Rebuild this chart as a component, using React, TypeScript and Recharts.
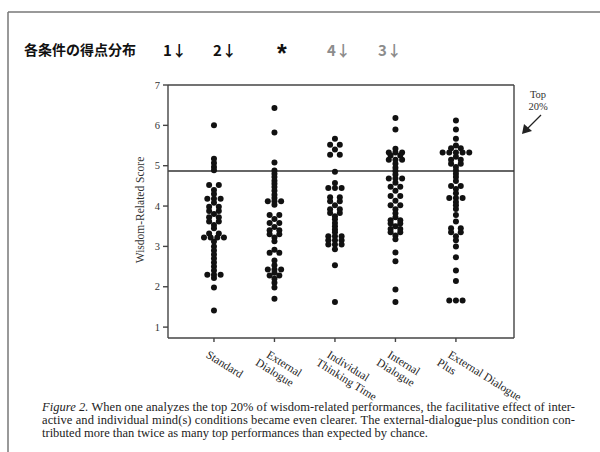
import React from "react";
import {
    ScatterChart,
    Scatter,
    XAxis,
    YAxis,
    ReferenceLine,
} from "recharts";

// category labels (one entry per line of the rotated tick label)
const conditionLabels = [
    ["Standard"],
    ["External", "Dialogue"],
    ["Individual", "Thinking Time"],
    ["Internal", "Dialogue"],
    ["External Dialogue", "Plus"],
];

// [score, number of dots at that score]
const standardScores = [
    [6.0, 1], [5.17, 1], [5.07, 1], [4.97, 1], [4.89, 1], [4.52, 2], [4.4, 1],
    [4.3, 1], [4.18, 3], [4.08, 1], [3.98, 2], [3.88, 2], [3.8, 1], [3.72, 2],
    [3.62, 2], [3.53, 1], [3.45, 1], [3.32, 2], [3.22, 4], [3.12, 1], [3.0, 1],
    [2.9, 1], [2.8, 1], [2.7, 1], [2.6, 1], [2.5, 1], [2.4, 1], [2.3, 3],
    [2.22, 1], [1.98, 1], [1.41, 1],
];
const externalScores = [
    [6.43, 1], [5.82, 1], [5.08, 1], [4.88, 1], [4.8, 1], [4.72, 1], [4.63, 1],
    [4.55, 1], [4.47, 1], [4.38, 1], [4.28, 1], [4.2, 1], [4.12, 3], [4.03, 1],
    [3.78, 2], [3.68, 1], [3.58, 2], [3.48, 1], [3.4, 2], [3.3, 2], [3.22, 1],
    [3.13, 1], [2.92, 1], [2.84, 2], [2.65, 1], [2.53, 1], [2.43, 3], [2.35, 1],
    [2.28, 2], [2.2, 1], [2.1, 1], [1.98, 1], [1.7, 1],
];
const individualScores = [
    [5.67, 1], [5.52, 2], [5.4, 1], [5.27, 2], [4.85, 1], [4.57, 1], [4.45, 3],
    [4.22, 2], [4.12, 2], [4.02, 1], [3.92, 2], [3.83, 2], [3.75, 1], [3.67, 1],
    [3.58, 1], [3.5, 1], [3.42, 1], [3.35, 1], [3.25, 3], [3.15, 3], [3.05, 3],
    [2.93, 1], [2.53, 1], [1.62, 1],
];
const internalScores = [
    [6.18, 1], [5.9, 1], [5.42, 1], [5.33, 3], [5.25, 2], [5.15, 3], [5.05, 1],
    [4.95, 1], [4.87, 1], [4.78, 1], [4.68, 3], [4.58, 1], [4.48, 2], [4.38, 1],
    [4.25, 2], [4.13, 1], [4.02, 2], [3.92, 1], [3.82, 1], [3.72, 1], [3.65, 2],
    [3.57, 2], [3.5, 1], [3.43, 2], [3.35, 2], [3.27, 1], [3.18, 1], [2.85, 1],
    [2.63, 1], [1.93, 1], [1.62, 1],
];
const externalPlusScores = [
    [6.12, 1], [5.9, 1], [5.67, 1], [5.5, 1], [5.43, 2], [5.33, 5], [5.22, 1],
    [5.15, 2], [5.05, 2], [4.97, 1], [4.88, 1], [4.8, 1], [4.72, 1], [4.62, 1],
    [4.5, 2], [4.42, 1], [4.32, 1], [4.2, 3], [4.1, 1], [4.02, 1], [3.93, 1],
    [3.78, 1], [3.62, 1], [3.45, 2], [3.35, 2], [3.25, 1], [3.15, 1], [3.0, 1],
    [2.73, 1], [2.4, 1], [2.14, 1], [1.66, 3],
];

const allColumns = [
    standardScores,
    externalScores,
    individualScores,
    internalScores,
    externalPlusScores,
];

const yTicks = [1, 2, 3, 4, 5, 6, 7];
const top20Cut = 4.87;

const captionLines = [
    "When one analyzes the top 20% of wisdom-related performances, the facilitative effect of inter-",
    "active and individual mind(s) conditions became even clearer. The external-dialogue-plus condition con-",
    "tributed more than twice as many top performances than expected by chance.",
];

// spread tied scores side by side around the column centre
const toPoints = (col: number, levels: number[][]) =>
    levels.flatMap(([score, n]) =>
        Array.from({ length: n }, (_, i) => ({
            x: col + (i - (n - 1) / 2) * (n === 2 ? 0.16 : 0.11),
            y: score,
        }))
    );

const points = allColumns.flatMap((levels, i) => toPoints(i + 1, levels));

const serif = "'Liberation Serif', 'DejaVu Serif', serif";

const ConditionTick = (props: any) => {
    const { x, y, payload } = props;
    const lines = conditionLabels[payload.value - 1] || [];
    return (
        <g transform={`translate(${x - 4},${y + 5}) rotate(32)`}>
            {lines.map((line, i) => (
                <text
                    key={line}
                    x={i * -5}
                    y={9 + i * 12.5}
                    fontFamily={serif}
                    fontSize={11.5}
                    fill="#222"
                >
                    {line}
                </text>
            ))}
        </g>
    );
};

const Dot = (props: any) => (
    <circle cx={props.cx} cy={props.cy} r={3} fill="#111" />
);

export default function App() {
    return (
        <div
            style={{
                position: "absolute",
                left: 0,
                top: 0,
                width: 600,
                height: 452,
                background: "#fff",
            }}
        >
            <ScatterChart
                width={600}
                height={452}
                margin={{ top: 85, right: 86, bottom: 84, left: 138 }}
            >
                <XAxis
                    type="number"
                    dataKey="x"
                    domain={[0.24, 5.96]}
                    ticks={[1, 2, 3, 4, 5]}
                    allowDataOverflow
                    height={30}
                    tickSize={4}
                    tickMargin={2}
                    stroke="#444"
                    strokeWidth={1.4}
                    tick={<ConditionTick />}
                />
                <YAxis
                    type="number"
                    dataKey="y"
                    domain={[0.73, 7]}
                    ticks={yTicks}
                    allowDataOverflow
                    width={30}
                    tickSize={5}
                    tickMargin={3}
                    stroke="#444"
                    strokeWidth={1.4}
                    tick={{ fontFamily: serif, fontSize: 10.5, fill: "#333" }}
                />
                <ReferenceLine y={7} stroke="#444" strokeWidth={1.4} />
                <ReferenceLine x={5.96} stroke="#444" strokeWidth={1.4} />
                <ReferenceLine y={top20Cut} stroke="#333" strokeWidth={1.5} />
                <Scatter data={points} shape={<Dot />} isAnimationActive={false} />
            </ScatterChart>

            <svg
                width={600}
                height={452}
                style={{ position: "absolute", left: 0, top: 0, pointerEvents: "none" }}
            >
                <line x1={8} y1={12} x2={600} y2={12} stroke="#777" strokeWidth={1.5} />
                <line x1={8} y1={12} x2={8} y2={452} stroke="#777" strokeWidth={1.5} />

                <g fontFamily="'Noto Sans CJK JP', sans-serif" fontWeight="bold" fontSize={14}>
                    <text x={24} y={55} fill="#111">各条件の得点分布</text>
                    <text x={163} y={56} fontSize={15} fill="#111">1↓</text>
                    <text x={213} y={56} fontSize={15} fill="#111">2↓</text>
                    <text x={277} y={62} fontSize={25} fontFamily="'Liberation Sans', sans-serif" fill="#111">*</text>
                    <text x={327} y={56} fontSize={15} fill="#8c8c8c">4↓</text>
                    <text x={378} y={56} fontSize={15} fill="#8c8c8c">3↓</text>
                </g>

                <text
                    transform="translate(140,210) rotate(-90)"
                    textAnchor="middle"
                    dominantBaseline="central"
                    fontFamily={serif}
                    fontSize={11.5}
                    fill="#333"
                >
                    Wisdom-Related Score
                </text>

                <g fontFamily={serif} fontSize={10.5} fill="#333" textAnchor="middle">
                    <text x={538} y={98}>Top</text>
                    <text x={538} y={110}>20%</text>
                </g>
                <line x1={541} y1={115} x2={527} y2={129} stroke="#222" strokeWidth={1.2} />
                <polygon points="522,134 524,124 532,131" fill="#222" />

                <g fontFamily={serif} fontSize={12.5} fill="#222">
                    <text x={42} y={411} textLength={533} lengthAdjust="spacing">
                        <tspan fontStyle="italic">Figure 2.</tspan>
                        {"  " + captionLines[0]}
                    </text>
                    <text x={42} y={424} textLength={533} lengthAdjust="spacing">
                        {captionLines[1]}
                    </text>
                    <text x={42} y={437}>{captionLines[2]}</text>
                </g>
            </svg>
        </div>
    );
}
